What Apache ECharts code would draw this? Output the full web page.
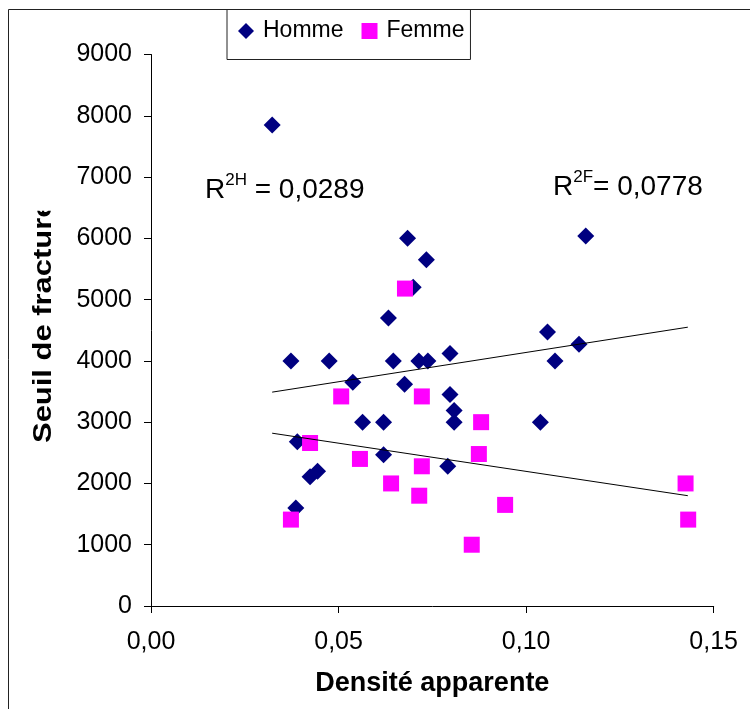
<!DOCTYPE html>
<html><head><meta charset="utf-8">
<script src="https://cdn.jsdelivr.net/npm/echarts@6/dist/echarts.min.js"></script>
<style>html,body{margin:0;padding:0;background:#fff}#c{width:750px;height:709px}</style>
</head><body><div id="c"></div>
<script>
const seriesNames = ['Homme', 'Femme'];
const hommeX = [0.0323,0.0684,0.0734,0.0699,0.0633,0.0373,0.0475,0.0646,0.0714,0.0738,0.0797,0.0538,0.0676,0.0797,0.0808,0.0808,0.0564,0.0620,0.0390,0.0620,0.0791,0.0424,0.0444,0.0386,0.1159,0.1057,0.1141,0.1077,0.1038];
const hommeY = [7850,6000,5650,5200,4700,4000,4000,4000,4000,4000,4120,3650,3620,3450,3190,3000,3000,3000,2680,2470,2280,2110,2200,1600,6040,4470,4270,4000,3000];
const femmeX = [0.0677,0.0507,0.0722,0.0424,0.0557,0.0722,0.0640,0.0715,0.0373,0.0880,0.0874,0.0944,0.0855,0.1425,0.1432];
const femmeY = [5180,3420,3420,2660,2400,2280,2000,1800,1410,3000,2480,1650,1000,2000,1410];
const trendHX = [0.0323, 0.1431];
const trendHY = [3490, 4550];
const trendFX = [0.0323, 0.1431];
const trendFY = [2820, 1800];
const r2Labels = [['2H', ' = 0,0289'], ['2F', '= 0,0778']];
const xTitle = 'Densité apparente';
const yTitle = 'Seuil de fracture';

const zip = (xs, ys) => xs.map((x, i) => [x, ys[i]]);
const FONT = '"Liberation Sans", Arial, sans-serif';

const chart = echarts.init(document.getElementById('c'), null, {renderer: 'canvas'});
const r2Rich = {
  a: {fontSize: 28, fontFamily: FONT, color: '#000', lineHeight: 32, verticalAlign: 'bottom'},
  s: {fontSize: 17, fontFamily: FONT, color: '#000', lineHeight: 32, verticalAlign: 'top'}
};
chart.setOption({
  animation: false,
  backgroundColor: '#fff',
  grid: {left: 151, right: 36.3, top: 54.5, bottom: 103, containLabel: false},
  legend: {
    data: [{name: seriesNames[0], icon: 'diamond'}, {name: seriesNames[1], icon: 'rect'}],
    left: 227, top: 9.5,
    borderColor: '#222', borderWidth: 1,
    padding: [10, 6, 17, 11],
    itemWidth: 16, itemHeight: 16, itemGap: 18,
    textStyle: {fontSize: 23, fontFamily: FONT, color: '#000', padding: [0, 0, 0, 4]}
  },
  xAxis: {
    type: 'value', min: 0, max: 0.15, interval: 0.05,
    splitLine: {show: false},
    axisLine: {lineStyle: {color: '#000', width: 1}},
    axisTick: {show: true, length: 7, lineStyle: {color: '#000'}},
    axisLabel: {fontSize: 25, fontFamily: FONT, color: '#000', margin: 24,
      formatter: v => v.toFixed(2).replace('.', ',')},
    name: xTitle, nameLocation: 'middle', nameGap: 64,
    nameTextStyle: {fontSize: 27, fontWeight: 'bold', fontFamily: FONT, color: '#000'}
  },
  yAxis: {
    type: 'value', min: 0, max: 9000, interval: 1000,
    splitLine: {show: false},
    axisLine: {show: true, lineStyle: {color: '#000', width: 1}},
    axisTick: {show: true, length: 7, lineStyle: {color: '#000'}},
    axisLabel: {fontSize: 25, fontFamily: FONT, color: '#000', margin: 19,
      formatter: v => String(v)}
  },
  series: [
    {name: seriesNames[0], type: 'scatter', symbol: 'diamond', symbolSize: 17, z: 2,
     itemStyle: {color: '#000080', opacity: 1}, data: zip(hommeX, hommeY)},
    {name: seriesNames[1], type: 'scatter', symbol: 'rect', symbolSize: 16, z: 3,
     itemStyle: {color: '#FF00FF', opacity: 1}, data: zip(femmeX, femmeY)},
    {name: 'trendH', type: 'line', showSymbol: false, symbol: 'none', z: 4, silent: true,
     lineStyle: {color: '#000', width: 1}, data: zip(trendHX, trendHY)},
    {name: 'trendF', type: 'line', showSymbol: false, symbol: 'none', z: 4, silent: true,
     lineStyle: {color: '#000', width: 1}, data: zip(trendFX, trendFY)}
  ],
  graphic: [
    {type: 'rect', z: 100, silent: true, shape: {x: 8.5, y: 9.5, width: 1000, height: 1000},
     style: {fill: 'none', stroke: '#222', lineWidth: 1}},
    {type: 'text', z: 50, x: 44, y: 443, rotation: Math.PI / 2, scaleX: 1.19,
     style: {text: yTitle, fontSize: 26, fontWeight: 'bold', fontFamily: FONT, fill: '#000',
       textAlign: 'left', textVerticalAlign: 'middle'}},
    {type: 'rect', z: 60, silent: true, shape: {x: 20, y: 150, width: 45, height: 60.7},
     style: {fill: '#fff', stroke: 'none'}},
    {type: 'text', z: 50, x: 205, y: 172,
     style: {text: '{a|R}{s|' + r2Labels[0][0] + '}{a|' + r2Labels[0][1] + '}', rich: r2Rich}},
    {type: 'text', z: 50, x: 553, y: 169,
     style: {text: '{a|R}{s|' + r2Labels[1][0] + '}{a|' + r2Labels[1][1] + '}', rich: r2Rich}}
  ]
});
</script></body></html>
